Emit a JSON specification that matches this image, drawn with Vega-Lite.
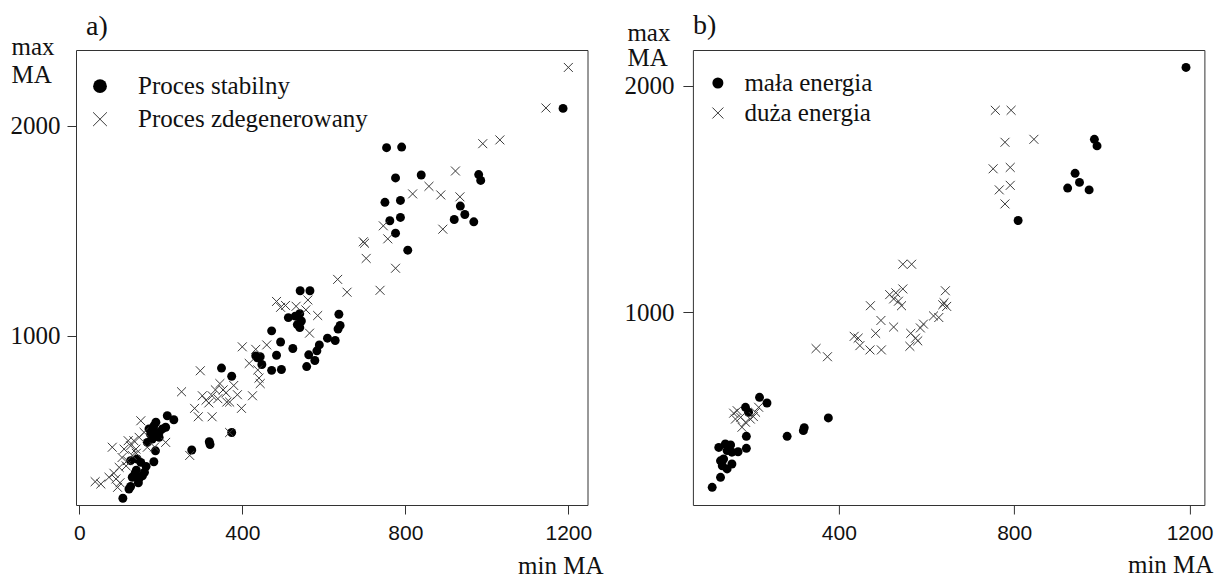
{
 "$schema": "https://vega.github.io/schema/vega-lite/v6.json",
 "background": "white",
 "padding": {"left": 9, "top": 11, "right": 5, "bottom": 0},
 "config": {
  "view": {"stroke": "#333", "strokeWidth": 1},
  "font": "Liberation Serif",
  "axis": {"grid": false, "domain": false, "format": "d", "tickColor": "#333", "tickWidth": 1, "labelColor": "#111", "titleColor": "#111", "titleFontWeight": "normal", "titleFont": "Liberation Serif", "titleFontSize": 25},
  "title": {"font": "Liberation Serif", "fontWeight": "normal", "fontSize": 28, "color": "#111", "anchor": "start"},
  "legend": {"title": null, "labelFont": "Liberation Serif", "labelFontSize": 25, "labelColor": "#111", "labelLimit": 0, "symbolStrokeWidth": 1, "padding": 0, "orient": "none"}
 },
 "datasets": {
  "a": [
   {"minMA":1187,"maxMA":2082,"typ":"Proces stabilny"},{"minMA":754,"maxMA":1895,"typ":"Proces stabilny"},{"minMA":791,"maxMA":1898,"typ":"Proces stabilny"},{"minMA":776,"maxMA":1751,"typ":"Proces stabilny"},{"minMA":839,"maxMA":1765,"typ":"Proces stabilny"},{"minMA":980,"maxMA":1767,"typ":"Proces stabilny"},{"minMA":985,"maxMA":1739,"typ":"Proces stabilny"},{"minMA":750,"maxMA":1635,"typ":"Proces stabilny"},{"minMA":788,"maxMA":1644,"typ":"Proces stabilny"},{"minMA":935,"maxMA":1617,"typ":"Proces stabilny"},{"minMA":762,"maxMA":1547,"typ":"Proces stabilny"},{"minMA":788,"maxMA":1563,"typ":"Proces stabilny"},{"minMA":920,"maxMA":1553,"typ":"Proces stabilny"},{"minMA":946,"maxMA":1577,"typ":"Proces stabilny"},{"minMA":968,"maxMA":1542,"typ":"Proces stabilny"},{"minMA":776,"maxMA":1488,"typ":"Proces stabilny"},{"minMA":806,"maxMA":1407,"typ":"Proces stabilny"},{"minMA":542,"maxMA":1214,"typ":"Proces stabilny"},{"minMA":566,"maxMA":1214,"typ":"Proces stabilny"},
   {"minMA":637,"maxMA":1102,"typ":"Proces stabilny"},{"minMA":640,"maxMA":1049,"typ":"Proces stabilny"},{"minMA":635,"maxMA":1032,"typ":"Proces stabilny"},{"minMA":628,"maxMA":977,"typ":"Proces stabilny"},{"minMA":609,"maxMA":988,"typ":"Proces stabilny"},{"minMA":589,"maxMA":956,"typ":"Proces stabilny"},{"minMA":583,"maxMA":928,"typ":"Proces stabilny"},{"minMA":578,"maxMA":882,"typ":"Proces stabilny"},{"minMA":563,"maxMA":909,"typ":"Proces stabilny"},{"minMA":558,"maxMA":853,"typ":"Proces stabilny"},{"minMA":513,"maxMA":1086,"typ":"Proces stabilny"},{"minMA":530,"maxMA":1093,"typ":"Proces stabilny"},{"minMA":541,"maxMA":1105,"typ":"Proces stabilny"},{"minMA":535,"maxMA":1053,"typ":"Proces stabilny"},{"minMA":541,"maxMA":1039,"typ":"Proces stabilny"},{"minMA":545,"maxMA":1070,"typ":"Proces stabilny"},{"minMA":524,"maxMA":939,"typ":"Proces stabilny"},{"minMA":494,"maxMA":970,"typ":"Proces stabilny"},{"minMA":484,"maxMA":907,"typ":"Proces stabilny"},{"minMA":472,"maxMA":1023,"typ":"Proces stabilny"},{"minMA":472,"maxMA":835,"typ":"Proces stabilny"},{"minMA":496,"maxMA":839,"typ":"Proces stabilny"},{"minMA":448,"maxMA":863,"typ":"Proces stabilny"},{"minMA":433,"maxMA":904,"typ":"Proces stabilny"},{"minMA":444,"maxMA":900,"typ":"Proces stabilny"},{"minMA":437,"maxMA":895,"typ":"Proces stabilny"},{"minMA":349,"maxMA":846,"typ":"Proces stabilny"},{"minMA":374,"maxMA":807,"typ":"Proces stabilny"},{"minMA":374,"maxMA":539,"typ":"Proces stabilny"},{"minMA":319,"maxMA":495,"typ":"Proces stabilny"},{"minMA":321,"maxMA":482,"typ":"Proces stabilny"},{"minMA":276,"maxMA":456,"typ":"Proces stabilny"},
   {"minMA":107,"maxMA":226,"typ":"Proces stabilny"},{"minMA":122,"maxMA":270,"typ":"Proces stabilny"},{"minMA":126,"maxMA":282,"typ":"Proces stabilny"},{"minMA":130,"maxMA":326,"typ":"Proces stabilny"},{"minMA":147,"maxMA":321,"typ":"Proces stabilny"},{"minMA":155,"maxMA":333,"typ":"Proces stabilny"},{"minMA":137,"maxMA":346,"typ":"Proces stabilny"},{"minMA":126,"maxMA":405,"typ":"Proces stabilny"},{"minMA":142,"maxMA":413,"typ":"Proces stabilny"},{"minMA":151,"maxMA":397,"typ":"Proces stabilny"},{"minMA":164,"maxMA":378,"typ":"Proces stabilny"},{"minMA":183,"maxMA":400,"typ":"Proces stabilny"},{"minMA":187,"maxMA":452,"typ":"Proces stabilny"},{"minMA":167,"maxMA":492,"typ":"Proces stabilny"},{"minMA":179,"maxMA":508,"typ":"Proces stabilny"},{"minMA":196,"maxMA":516,"typ":"Proces stabilny"},{"minMA":171,"maxMA":556,"typ":"Proces stabilny"},{"minMA":183,"maxMA":571,"typ":"Proces stabilny"},{"minMA":196,"maxMA":540,"typ":"Proces stabilny"},{"minMA":204,"maxMA":556,"typ":"Proces stabilny"},{"minMA":188,"maxMA":588,"typ":"Proces stabilny"},{"minMA":212,"maxMA":564,"typ":"Proces stabilny"},{"minMA":216,"maxMA":619,"typ":"Proces stabilny"},{"minMA":232,"maxMA":600,"typ":"Proces stabilny"},{"minMA":140,"maxMA":360,"typ":"Proces stabilny"},{"minMA":145,"maxMA":300,"typ":"Proces stabilny"},{"minMA":160,"maxMA":350,"typ":"Proces stabilny"},{"minMA":175,"maxMA":530,"typ":"Proces stabilny"},{"minMA":190,"maxMA":520,"typ":"Proces stabilny"},{"minMA":180,"maxMA":545,"typ":"Proces stabilny"},
   {"minMA":1200,"maxMA":2277,"typ":"Proces zdegenerowany"},{"minMA":1145,"maxMA":2084,"typ":"Proces zdegenerowany"},{"minMA":990,"maxMA":1914,"typ":"Proces zdegenerowany"},{"minMA":1032,"maxMA":1932,"typ":"Proces zdegenerowany"},{"minMA":923,"maxMA":1784,"typ":"Proces zdegenerowany"},{"minMA":818,"maxMA":1675,"typ":"Proces zdegenerowany"},{"minMA":858,"maxMA":1711,"typ":"Proces zdegenerowany"},{"minMA":887,"maxMA":1670,"typ":"Proces zdegenerowany"},{"minMA":934,"maxMA":1661,"typ":"Proces zdegenerowany"},{"minMA":746,"maxMA":1523,"typ":"Proces zdegenerowany"},{"minMA":757,"maxMA":1461,"typ":"Proces zdegenerowany"},{"minMA":892,"maxMA":1507,"typ":"Proces zdegenerowany"},{"minMA":697,"maxMA":1447,"typ":"Proces zdegenerowany"},{"minMA":700,"maxMA":1440,"typ":"Proces zdegenerowany"},{"minMA":704,"maxMA":1368,"typ":"Proces zdegenerowany"},{"minMA":776,"maxMA":1321,"typ":"Proces zdegenerowany"},{"minMA":634,"maxMA":1268,"typ":"Proces zdegenerowany"},{"minMA":657,"maxMA":1207,"typ":"Proces zdegenerowany"},{"minMA":738,"maxMA":1216,"typ":"Proces zdegenerowany"},
   {"minMA":484,"maxMA":1163,"typ":"Proces zdegenerowany"},{"minMA":494,"maxMA":1135,"typ":"Proces zdegenerowany"},{"minMA":506,"maxMA":1144,"typ":"Proces zdegenerowany"},{"minMA":532,"maxMA":1140,"typ":"Proces zdegenerowany"},{"minMA":561,"maxMA":1170,"typ":"Proces zdegenerowany"},{"minMA":556,"maxMA":1123,"typ":"Proces zdegenerowany"},{"minMA":585,"maxMA":1096,"typ":"Proces zdegenerowany"},{"minMA":565,"maxMA":1012,"typ":"Proces zdegenerowany"},{"minMA":400,"maxMA":947,"typ":"Proces zdegenerowany"},{"minMA":433,"maxMA":935,"typ":"Proces zdegenerowany"},{"minMA":460,"maxMA":956,"typ":"Proces zdegenerowany"},{"minMA":417,"maxMA":868,"typ":"Proces zdegenerowany"},{"minMA":438,"maxMA":837,"typ":"Proces zdegenerowany"},{"minMA":441,"maxMA":798,"typ":"Proces zdegenerowany"},{"minMA":444,"maxMA":772,"typ":"Proces zdegenerowany"},{"minMA":425,"maxMA":714,"typ":"Proces zdegenerowany"},{"minMA":398,"maxMA":654,"typ":"Proces zdegenerowany"},{"minMA":362,"maxMA":684,"typ":"Proces zdegenerowany"},{"minMA":379,"maxMA":763,"typ":"Proces zdegenerowany"},{"minMA":345,"maxMA":772,"typ":"Proces zdegenerowany"},{"minMA":334,"maxMA":742,"typ":"Proces zdegenerowany"},{"minMA":326,"maxMA":714,"typ":"Proces zdegenerowany"},{"minMA":311,"maxMA":693,"typ":"Proces zdegenerowany"},{"minMA":302,"maxMA":714,"typ":"Proces zdegenerowany"},{"minMA":297,"maxMA":833,"typ":"Proces zdegenerowany"},{"minMA":251,"maxMA":733,"typ":"Proces zdegenerowany"},{"minMA":283,"maxMA":654,"typ":"Proces zdegenerowany"},{"minMA":292,"maxMA":614,"typ":"Proces zdegenerowany"},{"minMA":326,"maxMA":614,"typ":"Proces zdegenerowany"},{"minMA":353,"maxMA":742,"typ":"Proces zdegenerowany"},{"minMA":369,"maxMA":684,"typ":"Proces zdegenerowany"},{"minMA":388,"maxMA":719,"typ":"Proces zdegenerowany"},{"minMA":360,"maxMA":728,"typ":"Proces zdegenerowany"},{"minMA":271,"maxMA":430,"typ":"Proces zdegenerowany"},{"minMA":369,"maxMA":539,"typ":"Proces zdegenerowany"},{"minMA":340,"maxMA":700,"typ":"Proces zdegenerowany"},{"minMA":318,"maxMA":680,"typ":"Proces zdegenerowany"},
   {"minMA":39,"maxMA":305,"typ":"Proces zdegenerowany"},{"minMA":53,"maxMA":294,"typ":"Proces zdegenerowany"},{"minMA":81,"maxMA":469,"typ":"Proces zdegenerowany"},{"minMA":90,"maxMA":318,"typ":"Proces zdegenerowany"},{"minMA":94,"maxMA":278,"typ":"Proces zdegenerowany"},{"minMA":98,"maxMA":373,"typ":"Proces zdegenerowany"},{"minMA":110,"maxMA":460,"typ":"Proces zdegenerowany"},{"minMA":118,"maxMA":405,"typ":"Proces zdegenerowany"},{"minMA":126,"maxMA":476,"typ":"Proces zdegenerowany"},{"minMA":134,"maxMA":500,"typ":"Proces zdegenerowany"},{"minMA":139,"maxMA":460,"typ":"Proces zdegenerowany"},{"minMA":147,"maxMA":516,"typ":"Proces zdegenerowany"},{"minMA":151,"maxMA":595,"typ":"Proces zdegenerowany"},{"minMA":212,"maxMA":492,"typ":"Proces zdegenerowany"},{"minMA":159,"maxMA":540,"typ":"Proces zdegenerowany"},{"minMA":167,"maxMA":469,"typ":"Proces zdegenerowany"},{"minMA":73,"maxMA":326,"typ":"Proces zdegenerowany"},{"minMA":85,"maxMA":345,"typ":"Proces zdegenerowany"},{"minMA":100,"maxMA":300,"typ":"Proces zdegenerowany"},{"minMA":115,"maxMA":380,"typ":"Proces zdegenerowany"},{"minMA":140,"maxMA":440,"typ":"Proces zdegenerowany"},{"minMA":130,"maxMA":430,"typ":"Proces zdegenerowany"},{"minMA":120,"maxMA":500,"typ":"Proces zdegenerowany"},{"minMA":105,"maxMA":420,"typ":"Proces zdegenerowany"},{"minMA":185,"maxMA":470,"typ":"Proces zdegenerowany"}
  ],
  "b": [
   {"minMA":1192,"maxMA":2080,"typ":"mała energia"},{"minMA":983,"maxMA":1763,"typ":"mała energia"},{"minMA":989,"maxMA":1734,"typ":"mała energia"},{"minMA":939,"maxMA":1613,"typ":"mała energia"},{"minMA":949,"maxMA":1573,"typ":"mała energia"},{"minMA":922,"maxMA":1548,"typ":"mała energia"},{"minMA":971,"maxMA":1540,"typ":"mała energia"},{"minMA":809,"maxMA":1405,"typ":"mała energia"},{"minMA":376,"maxMA":534,"typ":"mała energia"},{"minMA":321,"maxMA":491,"typ":"mała energia"},{"minMA":319,"maxMA":478,"typ":"mała energia"},{"minMA":282,"maxMA":453,"typ":"mała energia"},{"minMA":219,"maxMA":625,"typ":"mała energia"},{"minMA":236,"maxMA":600,"typ":"mała energia"},{"minMA":187,"maxMA":581,"typ":"mała energia"},{"minMA":194,"maxMA":559,"typ":"mała energia"},{"minMA":189,"maxMA":453,"typ":"mała energia"},{"minMA":189,"maxMA":400,"typ":"mała energia"},{"minMA":170,"maxMA":385,"typ":"mała energia"},{"minMA":126,"maxMA":404,"typ":"mała energia"},{"minMA":141,"maxMA":419,"typ":"mała energia"},{"minMA":153,"maxMA":415,"typ":"mała energia"},{"minMA":145,"maxMA":390,"typ":"mała energia"},{"minMA":156,"maxMA":383,"typ":"mała energia"},{"minMA":130,"maxMA":345,"typ":"mała energia"},{"minMA":137,"maxMA":353,"typ":"mała energia"},{"minMA":134,"maxMA":323,"typ":"mała energia"},{"minMA":145,"maxMA":309,"typ":"mała energia"},{"minMA":156,"maxMA":331,"typ":"mała energia"},{"minMA":130,"maxMA":272,"typ":"mała energia"},{"minMA":111,"maxMA":228,"typ":"mała energia"},
   {"minMA":757,"maxMA":1891,"typ":"duża energia"},{"minMA":793,"maxMA":1891,"typ":"duża energia"},{"minMA":779,"maxMA":1750,"typ":"duża energia"},{"minMA":845,"maxMA":1763,"typ":"duża energia"},{"minMA":752,"maxMA":1633,"typ":"duża energia"},{"minMA":791,"maxMA":1639,"typ":"duża energia"},{"minMA":766,"maxMA":1540,"typ":"duża energia"},{"minMA":791,"maxMA":1560,"typ":"duża energia"},{"minMA":779,"maxMA":1478,"typ":"duża energia"},{"minMA":546,"maxMA":1212,"typ":"duża energia"},{"minMA":566,"maxMA":1212,"typ":"duża energia"},{"minMA":516,"maxMA":1078,"typ":"duża energia"},{"minMA":530,"maxMA":1086,"typ":"duża energia"},{"minMA":525,"maxMA":1059,"typ":"duża energia"},{"minMA":536,"maxMA":1049,"typ":"duża energia"},{"minMA":546,"maxMA":1103,"typ":"duża energia"},{"minMA":543,"maxMA":1029,"typ":"duża energia"},{"minMA":643,"maxMA":1095,"typ":"duża energia"},{"minMA":640,"maxMA":1042,"typ":"duża energia"},{"minMA":637,"maxMA":1033,"typ":"duża energia"},{"minMA":646,"maxMA":1026,"typ":"duża energia"},{"minMA":628,"maxMA":977,"typ":"duża energia"},{"minMA":616,"maxMA":984,"typ":"duża energia"},{"minMA":593,"maxMA":948,"typ":"duża energia"},{"minMA":586,"maxMA":931,"typ":"duża energia"},{"minMA":575,"maxMA":886,"typ":"duża energia"},{"minMA":580,"maxMA":874,"typ":"duża energia"},{"minMA":562,"maxMA":850,"typ":"duża energia"},{"minMA":564,"maxMA":907,"typ":"duża energia"},{"minMA":525,"maxMA":935,"typ":"duża energia"},{"minMA":496,"maxMA":964,"typ":"duża energia"},{"minMA":484,"maxMA":907,"typ":"duża energia"},{"minMA":472,"maxMA":1029,"typ":"duża energia"},{"minMA":435,"maxMA":894,"typ":"duża energia"},{"minMA":444,"maxMA":886,"typ":"duża energia"},{"minMA":448,"maxMA":853,"typ":"duża energia"},{"minMA":471,"maxMA":834,"typ":"duża energia"},{"minMA":497,"maxMA":834,"typ":"duża energia"},{"minMA":348,"maxMA":840,"typ":"duża energia"},{"minMA":374,"maxMA":804,"typ":"duża energia"},{"minMA":168,"maxMA":566,"typ":"duża energia"},{"minMA":176,"maxMA":537,"typ":"duża energia"},{"minMA":164,"maxMA":529,"typ":"duża energia"},{"minMA":187,"maxMA":515,"typ":"duża energia"},{"minMA":198,"maxMA":529,"typ":"duża energia"},{"minMA":210,"maxMA":559,"typ":"duża energia"},{"minMA":217,"maxMA":581,"typ":"duża energia"},{"minMA":179,"maxMA":493,"typ":"duża energia"},{"minMA":160,"maxMA":555,"typ":"duża energia"},{"minMA":205,"maxMA":540,"typ":"duża energia"}
  ]
 },
 "bounds": "flush",
 "spacing": 104.9,
 "resolve": {"scale": {"fill": "independent", "stroke": "independent", "shape": "independent"}, "legend": {"fill": "independent", "stroke": "independent", "shape": "independent"}},
 "hconcat": [
  {
   "width": 511.5, "height": 455,
   "title": {"text": "a)", "offset": -7, "dx": 76},
   "data": {"name": "a"},
   "mark": {"type": "point", "size": 80, "strokeWidth": 1, "opacity": 1},
   "encoding": {
    "x": {"field": "minMA", "type": "quantitative", "scale": {"domain": [-8, 1247], "nice": false, "zero": false},
      "axis": {"values": [0, 400, 800, 1200], "title": "min MA", "titleX": 527, "titleY": 68, "titleAlign": "right", "titleBaseline": "alphabetic", "tickSize": 9, "labelPadding": 8, "labelFont": "Liberation Sans", "labelFontSize": 21}},
    "y": {"field": "maxMA", "type": "quantitative", "scale": {"domain": [194, 2360], "nice": false, "zero": false},
      "axis": {"values": [1000, 2000], "title": ["max", "MA"], "titleAngle": 0, "titleX": -65, "titleY": 4, "titleAlign": "left", "titleBaseline": "alphabetic", "titleLineHeight": 28, "tickSize": 9, "labelPadding": 7, "labelFont": "Liberation Serif", "labelFontSize": 25}},
    "shape": {"field": "typ", "type": "nominal", "scale": {"domain": ["Proces stabilny", "Proces zdegenerowany"], "range": ["circle", "M-1,-1L1,1M1,-1L-1,1"]},
      "legend": {"legendX": 11.5, "legendY": 23.7, "symbolSize": 190, "labelOffset": 25.5, "rowPadding": 7}},
    "fill": {"field": "typ", "type": "nominal", "scale": {"domain": ["Proces stabilny", "Proces zdegenerowany"], "range": ["#000000", "transparent"]},
      "legend": {"legendX": 11.5, "legendY": 23.7, "symbolSize": 190, "labelOffset": 25.5, "rowPadding": 7}},
    "stroke": {"field": "typ", "type": "nominal", "scale": {"domain": ["Proces stabilny", "Proces zdegenerowany"], "range": ["transparent", "#3a3a3a"]},
      "legend": {"legendX": 11.5, "legendY": 23.7, "symbolSize": 190, "labelOffset": 25.5, "rowPadding": 7}}
   }
  },
  {
   "width": 511.5, "height": 455,
   "title": {"text": "b)", "offset": -20, "dx": 69},
   "data": {"name": "b"},
   "mark": {"type": "point", "size": 80, "strokeWidth": 1, "opacity": 1},
   "encoding": {
    "x": {"field": "minMA", "type": "quantitative", "scale": {"domain": [67, 1234], "nice": false, "zero": false},
      "axis": {"values": [400, 800, 1200], "title": "min MA", "titleX": 520, "titleY": 67, "titleAlign": "right", "titleBaseline": "alphabetic", "tickSize": 9, "labelPadding": 8, "labelFont": "Liberation Sans", "labelFontSize": 21}},
    "y": {"field": "maxMA", "type": "quantitative", "scale": {"domain": [150, 2157], "nice": false, "zero": false},
      "axis": {"values": [1000, 2000], "title": ["max", "MA"], "titleAngle": 0, "titleX": -66, "titleY": -10, "titleAlign": "left", "titleBaseline": "alphabetic", "titleLineHeight": 25, "tickSize": 10, "labelPadding": 9, "labelFont": "Liberation Serif", "labelFontSize": 25}},
    "shape": {"field": "typ", "type": "nominal", "scale": {"domain": ["mała energia", "duża energia"], "range": ["circle", "M-1,-1L1,1M1,-1L-1,1"]},
      "legend": {"legendX": 12.5, "legendY": 20.5, "symbolSize": 121, "labelOffset": 14, "rowPadding": 4}},
    "fill": {"field": "typ", "type": "nominal", "scale": {"domain": ["mała energia", "duża energia"], "range": ["#000000", "transparent"]},
      "legend": {"legendX": 12.5, "legendY": 20.5, "symbolSize": 121, "labelOffset": 14, "rowPadding": 4}},
    "stroke": {"field": "typ", "type": "nominal", "scale": {"domain": ["mała energia", "duża energia"], "range": ["transparent", "#3a3a3a"]},
      "legend": {"legendX": 12.5, "legendY": 20.5, "symbolSize": 121, "labelOffset": 14, "rowPadding": 4}}
   }
  }
 ]
}
